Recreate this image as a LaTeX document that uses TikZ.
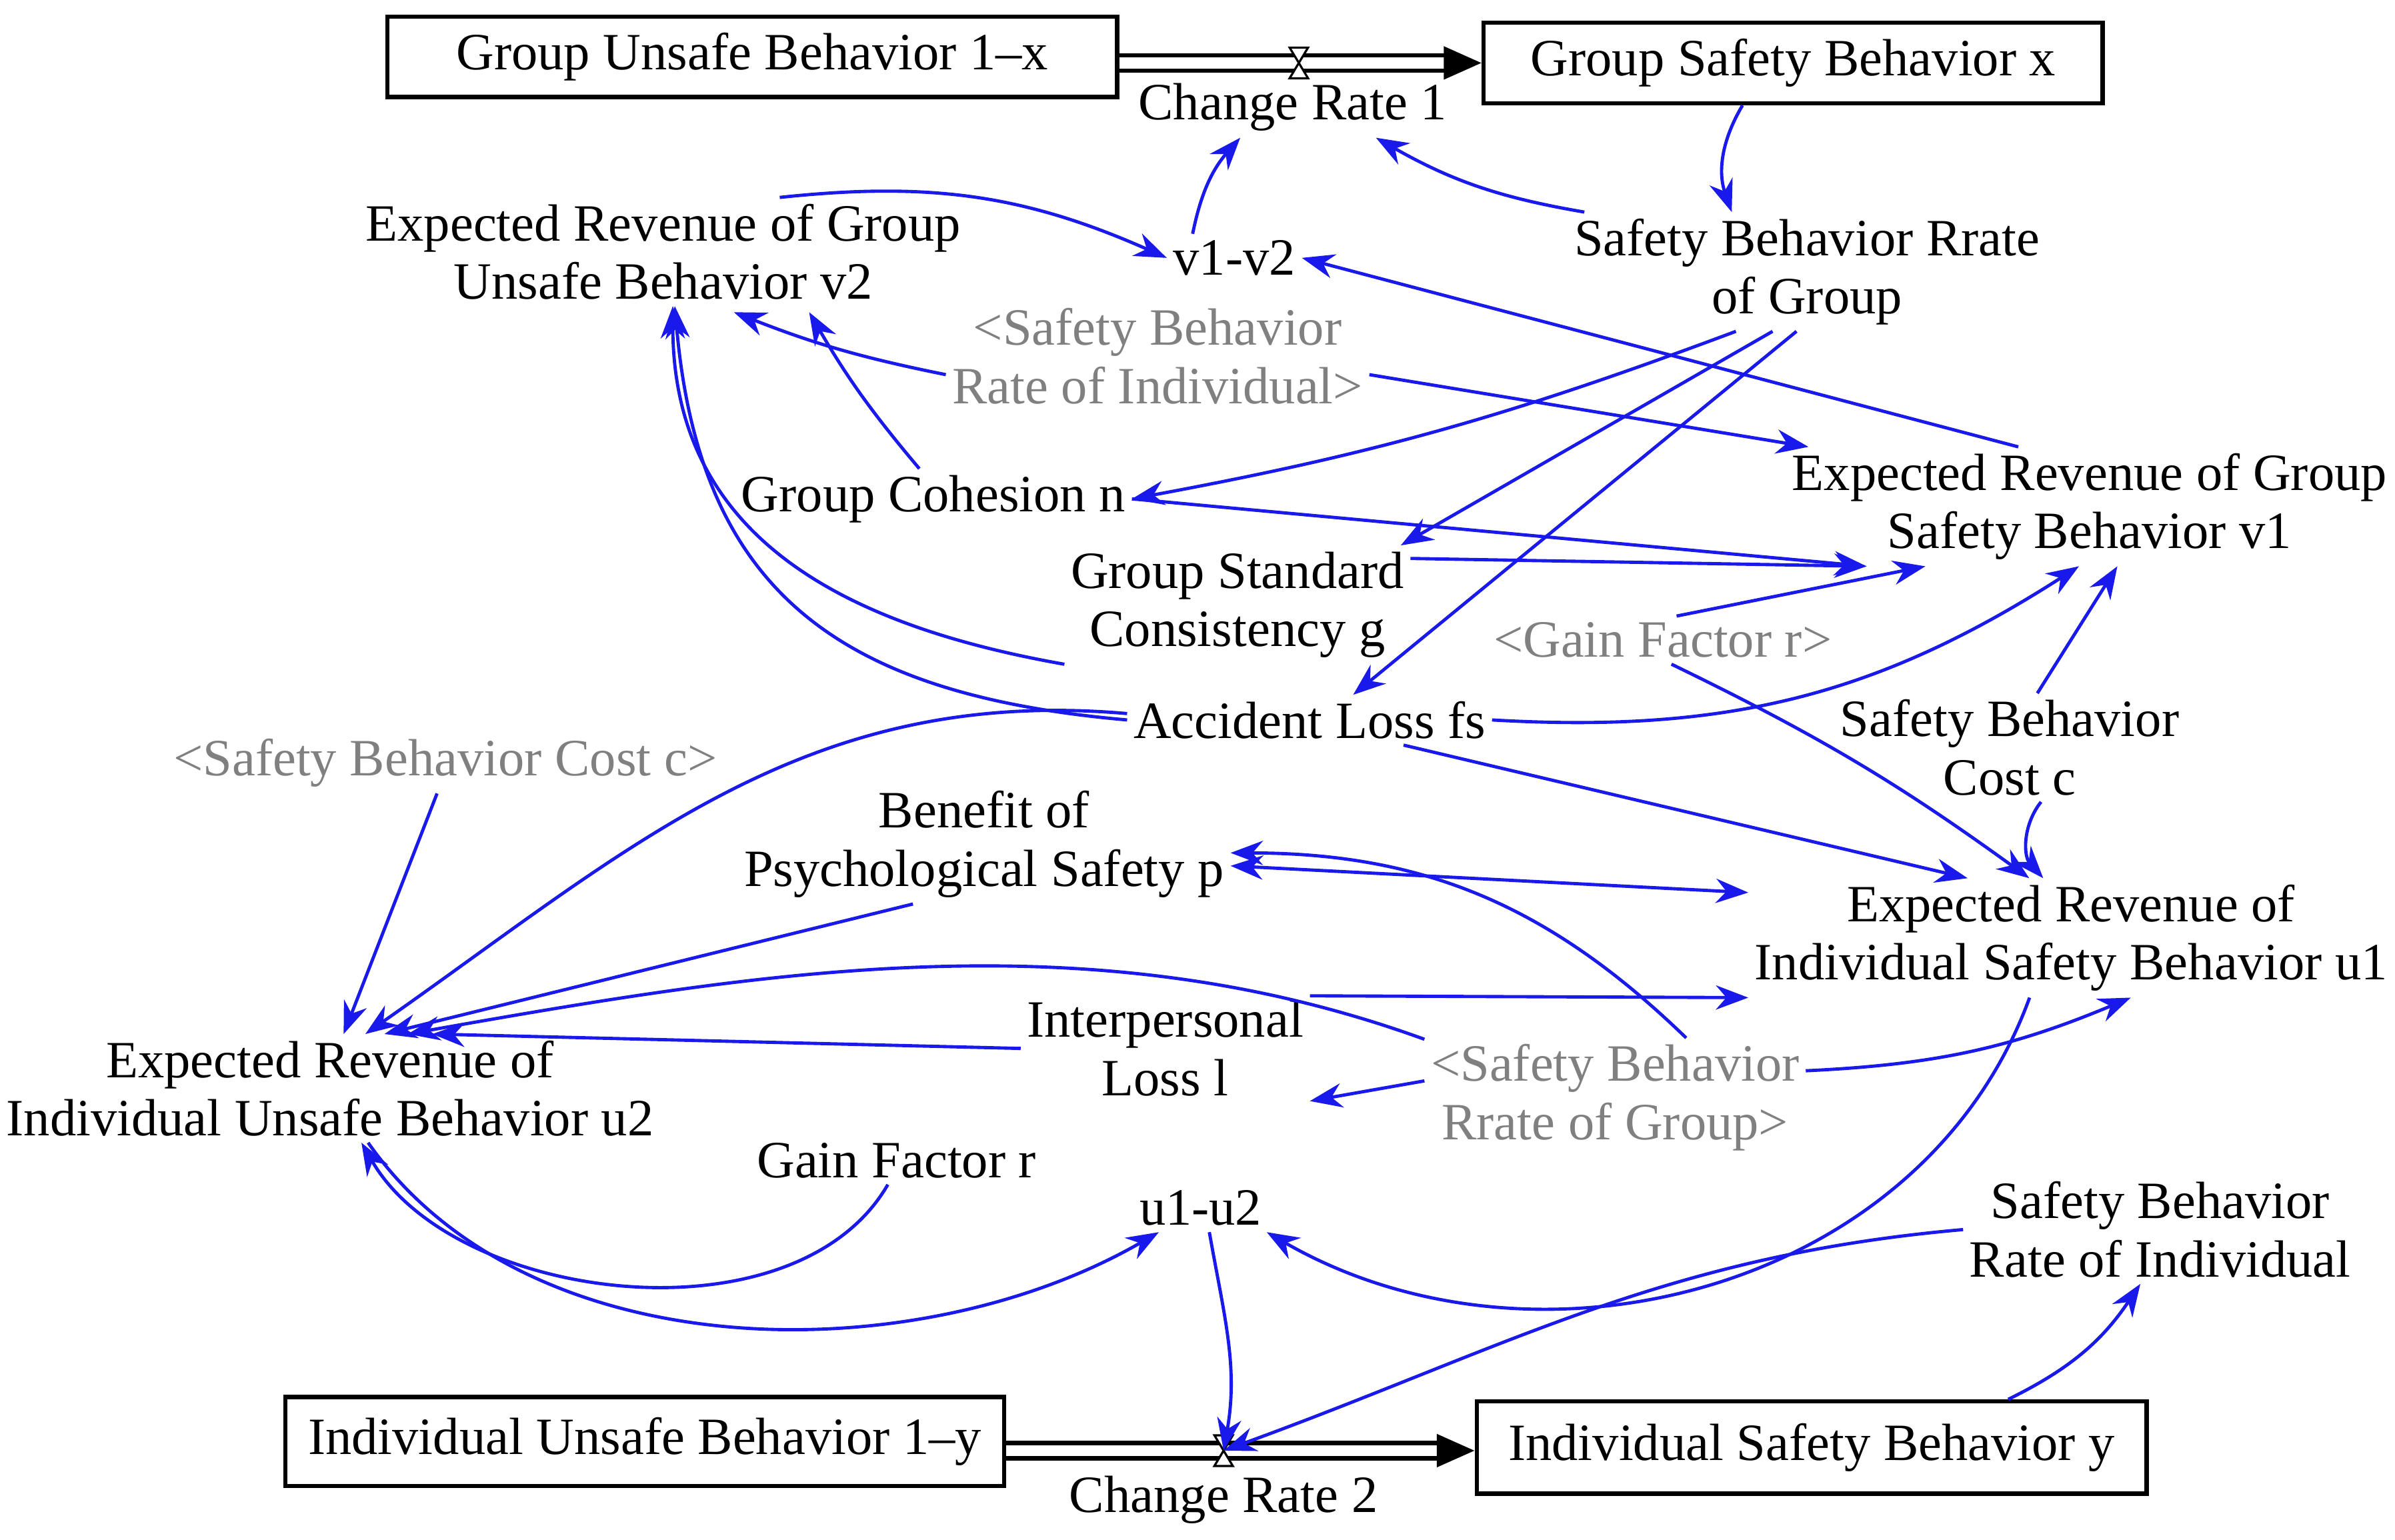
\documentclass[tikz,border=0pt]{standalone}
\usepackage{fontspec}
\setmainfont{Liberation Serif}
\usetikzlibrary{arrows.meta}
\definecolor{ab}{RGB}{25,25,235}
\begin{document}
\begin{tikzpicture}[x=0.01cm,y=-0.01cm,
  v/.style={align=center,inner sep=1pt,font=\fontsize{9.7}{10.8}\selectfont},
  g/.style={v,text=gray},
  st/.style={draw,thick,minimum height=0.5cm,inner sep=3pt,font=\fontsize{9.7}{10.8}\selectfont},
  a/.style={ab,semithick,-{Stealth[length=6pt,width=4.5pt]}},
  aa/.style={ab,semithick,{Stealth[length=6pt,width=4.5pt]}-{Stealth[length=6pt,width=4.5pt]}},
  pipe/.style={double,double distance=2pt,thick,-{Triangle[length=7pt,width=6pt]}}]
\useasboundingbox (0,0) rectangle (1560,1003);
% stocks
\node[st,minimum width=4.75cm] (GU) at (490,37) {Group Unsafe Behavior 1--x};
\node[st,minimum width=4.03cm] (GS) at (1168,41) {Group Safety Behavior x};
\node[st,minimum width=4.68cm,minimum height=0.58cm] (IU) at (420,939) {Individual Unsafe Behavior 1--y};
\node[st,minimum width=4.36cm,minimum height=0.6cm] (IS) at (1180,943) {Individual Safety Behavior y};
% valves
\coordinate (V1) at (846,41);
\coordinate (V2) at (797,945);
\draw[pipe] (GU.east|-V1) -- (GS.west|-V1);
\draw[pipe] (IU.east|-V2) -- (IS.west|-V2);
\foreach \c in {V1,V2}{
 \draw[fill=white] ([shift={(-6,-10)}]\c) -- ([shift={(6,-10)}]\c) -- ([shift={(-6,10)}]\c) -- ([shift={(6,10)}]\c) -- cycle;}
\node[v] (CR1) at (842,70) {Change Rate 1};
\node[v] (CR2) at (797,977) {Change Rate 2};
% variables
\node[v] (v2) at (432,164) {Expected Revenue of Group\\Unsafe Behavior v2};
\node[v] (v1v2) at (804,168) {v1-v2};
\node[v] (SBRG) at (1177,177) {Safety Behavior Rrate\\of Group};
\node[g] (gI) at (754,232) {<Safety Behavior\\Rate of Individual>};
\node[v] (GC) at (608,325) {Group Cohesion n};
\node[v] (v1) at (1361,330) {Expected Revenue of Group\\Safety Behavior v1};
\node[v] (GSC) at (806,394) {Group Standard\\Consistency g};
\node[g] (gG) at (1083,417) {<Gain Factor r>};
\node[v] (AL) at (853,469) {Accident Loss fs};
\node[v] (SBC) at (1309,487) {Safety Behavior\\Cost c};
\node[g] (gC) at (290,497) {<Safety Behavior Cost c>};
\node[v] (BPS) at (641,550) {Benefit of\\Psychological Safety p};
\node[v] (u1) at (1349,611) {Expected Revenue of\\Individual Safety Behavior u1};
\node[v] (IL) at (759,683) {Interpersonal\\Loss l};
\node[g] (gR) at (1052,715) {<Safety Behavior\\Rrate of Group>};
\node[v] (u2) at (215,709) {Expected Revenue of\\Individual Unsafe Behavior u2};
\node[v] (GF) at (584,756) {Gain Factor r};
\node[v] (u1u2) at (782,787) {u1-u2};
\node[v] (SBRI) at (1407,801) {Safety Behavior\\Rate of Individual};
% connectors
\draw[a] (v1v2.150) to[bend left=15] (CR1.210);
\draw[a] (SBRG.165) to[bend left=10] (CR1.340);
\draw[a] ([xshift=-0.33cm]GS.south) to[bend right=25] ([xshift=-0.49cm]SBRG.north);
\draw[a] (v2.25) to[bend left=15] (v1v2.west);
\draw[a] (v1.140) -- (v1v2.east);
\draw[a] (gI.185) to[bend left=5] ([xshift=0.46cm,yshift=-0.04cm]v2.south);
\draw[a] (GC.115) to[bend left=5] ([xshift=0.95cm,yshift=-0.04cm]v2.south);
\draw[a] (gI.-5) -- (v1.168);
\draw[a] (SBRG.-140) to[bend left=5] (GC.east);
\draw[a] (GC.east) -- (v1.195);
\draw[a] (SBRG.-120) -- (GSC.20);
\draw[a] (SBRG.-100) -- (AL.30);
\draw[a] (GSC.15) -- (v1.-165);
\draw[a] (gG.60) -- (v1.-160);
\draw[a] (GSC.south west) to[out=170,in=-90,looseness=1.1] (v2.-80);
\draw[a] (AL.west) to[out=175,in=-85,looseness=1.2] (v2.-78);
\draw[a] (AL.east) to[bend right=18] (v1.-100);
\draw[a] (AL.-15) -- (u1.150);
\draw[a] (gG.-70) to[bend left=5] (u1.125);
\draw[a] (SBC.63) -- (v1.-65);
\draw[a] (SBC.-60) to[bend right=40] (u1.115);
\draw[a] (AL.178) to[out=175,in=35] (u2.57);
\draw[a] (gC.-105) -- (u2.76);
\draw[a] (BPS.-140) -- (u2.45);
\draw[aa] (BPS.-5) -- (u1.172);
\draw[a] (gR.40) to[bend right=22] (BPS.-2);
\draw[a] (IL.20) -- (u1.south west);
\draw[a] (gR.175) -- (IL.-20);
\draw[a] (gR.8) to[bend right=10] (u1.-45);
\draw[a] (IL.west) -- (u2.28);
\draw[a] (gR.163) to[out=160,in=10,looseness=0.9] (u2.35);
\draw[a] (GF.-110) to[out=-120,in=-60,looseness=0.9] (u2.-60);
\draw[a] (u2.-55) to[out=-55,in=210,looseness=0.9] (u1u2.-150);
\draw[a] ([xshift=-0.27cm]u1.south) to[out=-110,in=-30,looseness=1.0] (u1u2.-20);
\draw[a] (u1u2.-70) to[out=-80,in=80] (V2);
\draw[a] (SBRI.west) to[out=-175,in=20] (V2);
\draw[a] ([xshift=1.28cm]IS.north) to[bend right=15] (SBRI.-110);
\end{tikzpicture}
\end{document}
